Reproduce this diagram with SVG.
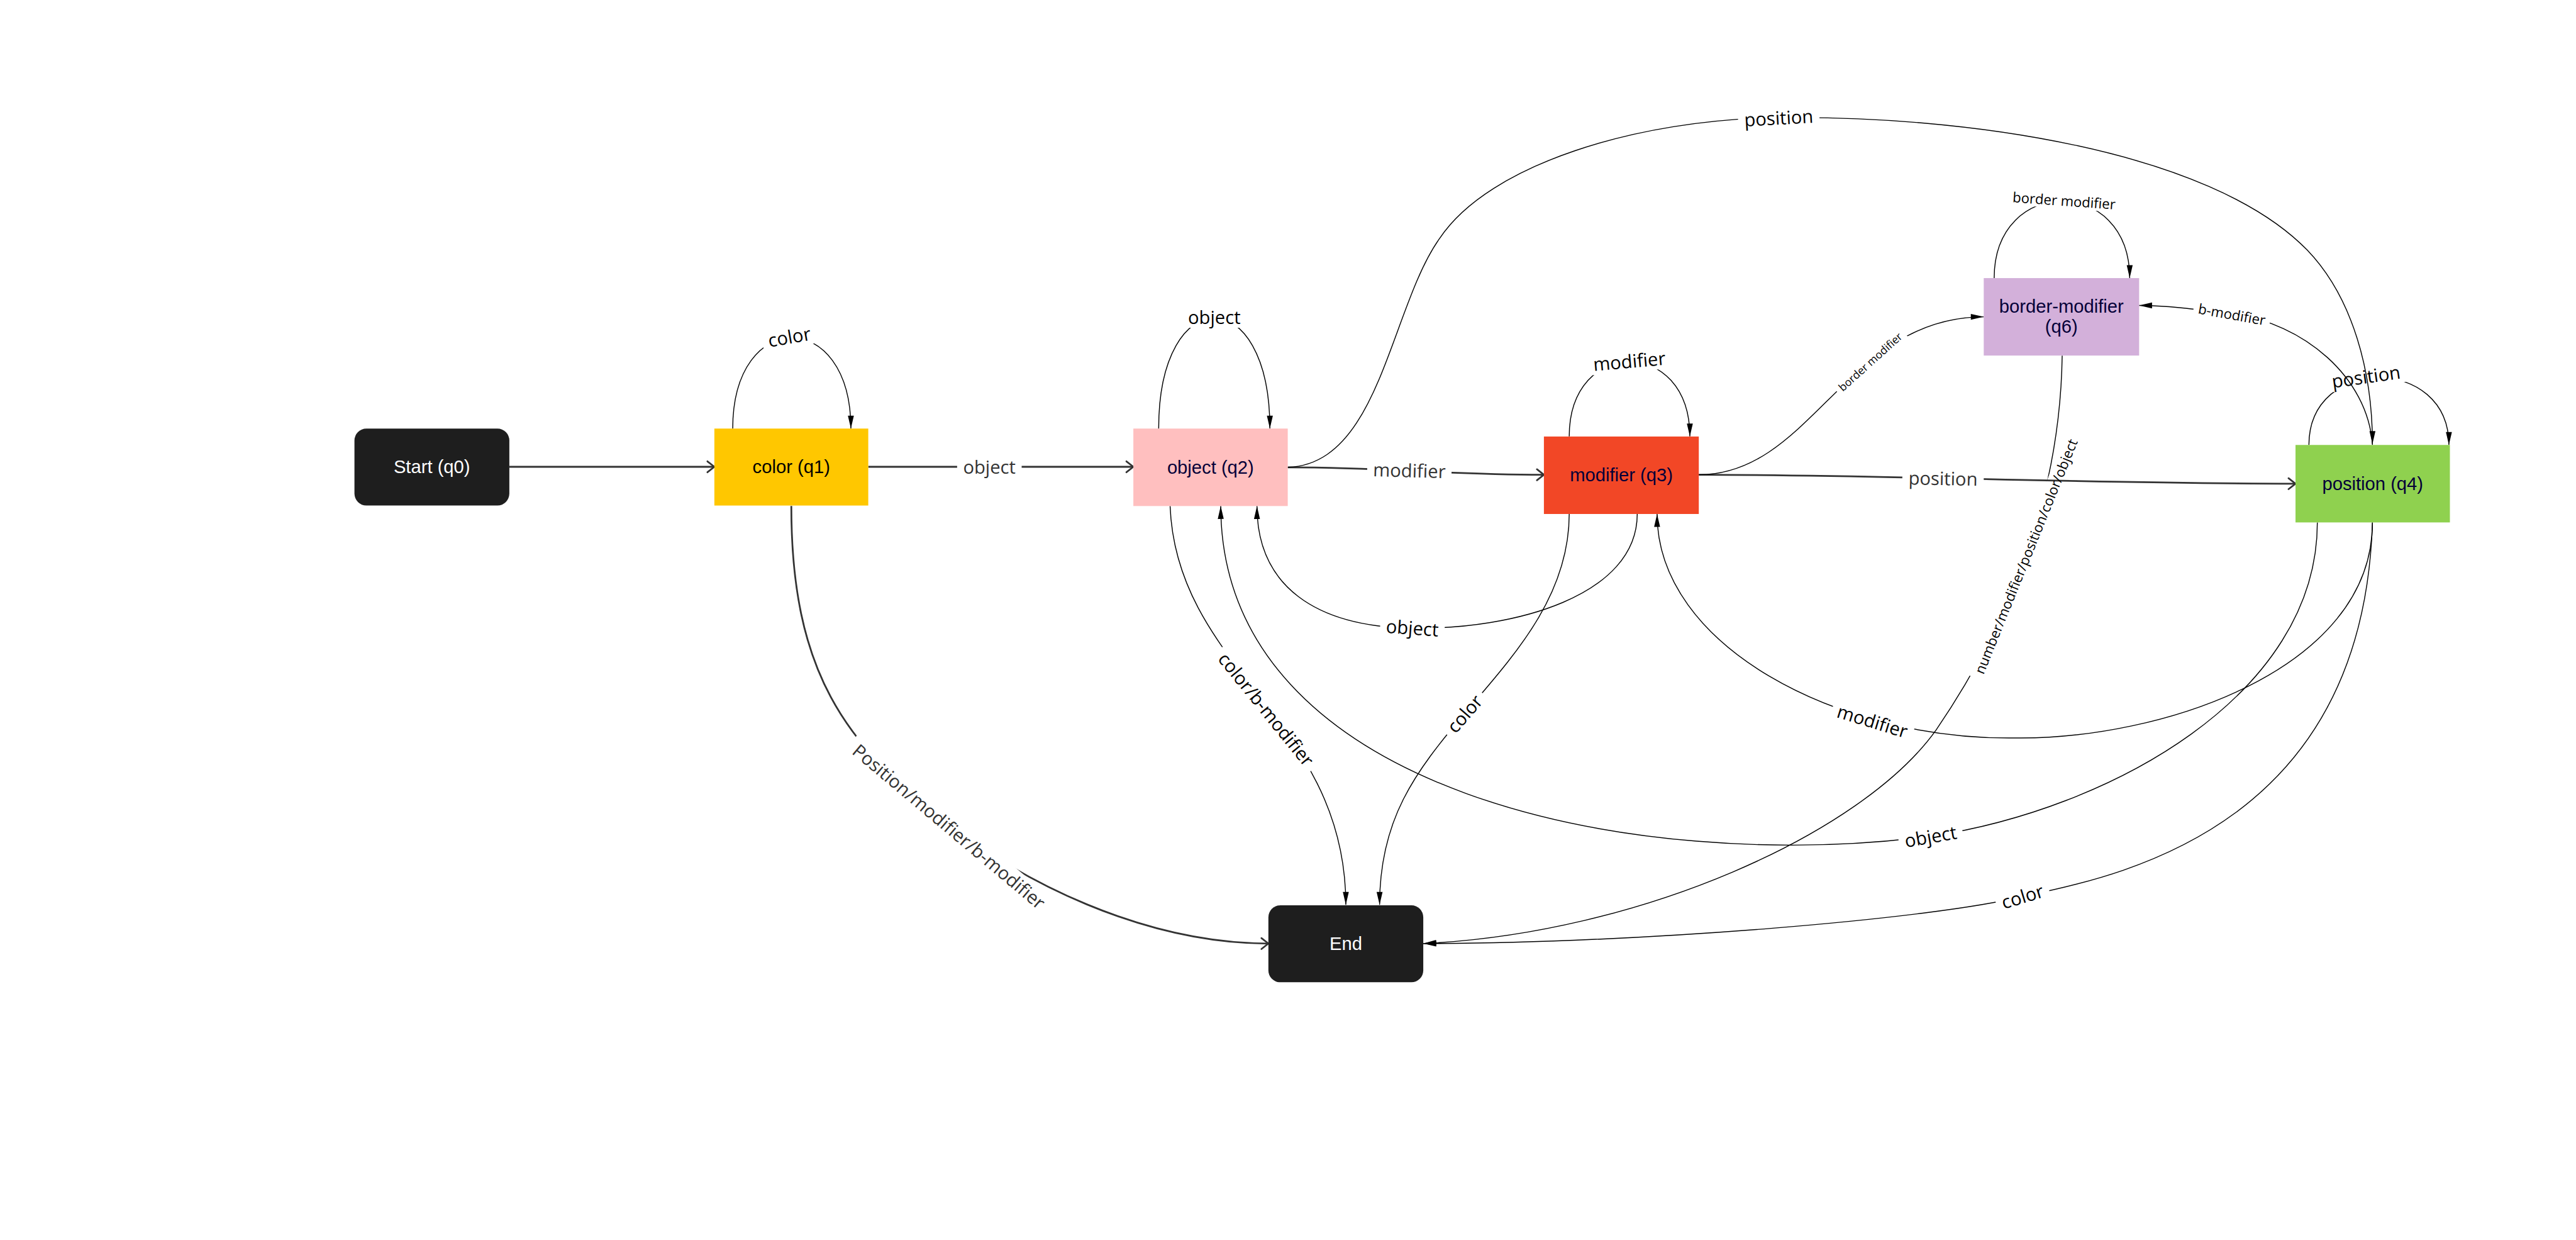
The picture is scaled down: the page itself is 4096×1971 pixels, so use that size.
<svg xmlns="http://www.w3.org/2000/svg" width="4096" height="1971" viewBox="0 0 4096 1971">
<style>
.thick{fill:none;stroke:#333;stroke-width:3.5;marker-end:url(#chev)}
.thin{fill:none;stroke:#000;stroke-width:1.8;marker-end:url(#tri)}
.lbl{font-family:"Open Sans","Noto Sans",sans-serif;font-size:37px;text-anchor:middle;dominant-baseline:central;fill:#000}
.g{fill:#333}
.sm{font-size:28px}
.xs{font-size:22px}
.nt{font-family:"Liberation Sans",Arial,sans-serif;font-size:37px;text-anchor:middle;dominant-baseline:central;fill:#050038}
.wt{fill:#fff}
</style>
<defs>
<marker id="chev" markerUnits="userSpaceOnUse" markerWidth="22" markerHeight="30" refX="17" refY="14" orient="auto" overflow="visible"><path d="M3,3 L17,14 L3,25" fill="none" stroke="#333" stroke-width="3.5" stroke-linecap="round" stroke-linejoin="round"/></marker>
<marker id="tri" markerUnits="userSpaceOnUse" markerWidth="27" markerHeight="14" refX="26" refY="7" orient="auto" overflow="visible"><path d="M0,1 L26,7 L0,13 Z" fill="#000"/></marker>
<mask id="m-e2" maskUnits="userSpaceOnUse" x="0" y="0" width="5189" height="2497"><rect width="5189" height="2497" fill="#fff"/><rect x="1928" y="918" width="130" height="44"/></mask>
<mask id="m-e3" maskUnits="userSpaceOnUse" x="0" y="0" width="5189" height="2497"><rect width="5189" height="2497" fill="#fff"/><rect x="2754" y="925" width="170" height="44" transform="rotate(1.5 2839 947)"/></mask>
<mask id="m-e4" maskUnits="userSpaceOnUse" x="0" y="0" width="5189" height="2497"><rect width="5189" height="2497" fill="#fff"/><rect x="3832" y="941" width="164" height="44" transform="rotate(1 3914 963)"/></mask>
<mask id="m-e5" maskUnits="userSpaceOnUse" x="0" y="0" width="5189" height="2497"><rect width="5189" height="2497" fill="#fff"/><rect x="1652" y="1642" width="520" height="44" transform="rotate(40 1912 1664)"/></mask>
<mask id="m-e6" maskUnits="userSpaceOnUse" x="0" y="0" width="5189" height="2497"><rect width="5189" height="2497" fill="#fff"/><rect x="2398" y="1406" width="306" height="44" transform="rotate(51 2551 1428)"/></mask>
<mask id="m-e7" maskUnits="userSpaceOnUse" x="0" y="0" width="5189" height="2497"><rect width="5189" height="2497" fill="#fff"/><rect x="2895" y="1415" width="110" height="44" transform="rotate(-49 2950 1437)"/></mask>
<mask id="m-e8" maskUnits="userSpaceOnUse" x="0" y="0" width="5189" height="2497"><rect width="5189" height="2497" fill="#fff"/><rect x="2780" y="1242" width="130" height="44" transform="rotate(4 2845 1264)"/></mask>
<mask id="m-e9" maskUnits="userSpaceOnUse" x="0" y="0" width="5189" height="2497"><rect width="5189" height="2497" fill="#fff"/><rect x="3687" y="1430" width="170" height="44" transform="rotate(17 3772 1452)"/></mask>
<mask id="m-e10" maskUnits="userSpaceOnUse" x="0" y="0" width="5189" height="2497"><rect width="5189" height="2497" fill="#fff"/><rect x="3824" y="1662" width="130" height="44" transform="rotate(-10 3889 1684)"/></mask>
<mask id="m-e11" maskUnits="userSpaceOnUse" x="0" y="0" width="5189" height="2497"><rect width="5189" height="2497" fill="#fff"/><rect x="4019" y="1783" width="110" height="44" transform="rotate(-17 4074 1805)"/></mask>
<mask id="m-e12" maskUnits="userSpaceOnUse" x="0" y="0" width="5189" height="2497"><rect width="5189" height="2497" fill="#fff"/><rect x="3815" y="1103" width="530" height="34" transform="rotate(-68 4080 1120)"/></mask>
<mask id="m-e13" maskUnits="userSpaceOnUse" x="0" y="0" width="5189" height="2497"><rect width="5189" height="2497" fill="#fff"/><rect x="3677" y="714" width="180" height="28" transform="rotate(-42 3767 728)"/></mask>
<mask id="m-e14" maskUnits="userSpaceOnUse" x="0" y="0" width="5189" height="2497"><rect width="5189" height="2497" fill="#fff"/><rect x="3501" y="215" width="164" height="44" transform="rotate(-3 3583 237)"/></mask>
<mask id="m-e15" maskUnits="userSpaceOnUse" x="0" y="0" width="5189" height="2497"><rect width="5189" height="2497" fill="#fff"/><rect x="4418" y="615" width="156" height="34" transform="rotate(10 4496 632)"/></mask>
<mask id="m-l1" maskUnits="userSpaceOnUse" x="0" y="0" width="5189" height="2497"><rect width="5189" height="2497" fill="#fff"/><rect x="1535" y="656" width="110" height="44" transform="rotate(-10 1590 678)"/></mask>
<mask id="m-l2" maskUnits="userSpaceOnUse" x="0" y="0" width="5189" height="2497"><rect width="5189" height="2497" fill="#fff"/><rect x="2381" y="616" width="130" height="44"/></mask>
<mask id="m-l3" maskUnits="userSpaceOnUse" x="0" y="0" width="5189" height="2497"><rect width="5189" height="2497" fill="#fff"/><rect x="3197" y="705" width="170" height="44" transform="rotate(-5 3282 727)"/></mask>
<mask id="m-l6" maskUnits="userSpaceOnUse" x="0" y="0" width="5189" height="2497"><rect width="5189" height="2497" fill="#fff"/><rect x="4045" y="386" width="226" height="34" transform="rotate(4 4158 403)"/></mask>
<mask id="m-l4" maskUnits="userSpaceOnUse" x="0" y="0" width="5189" height="2497"><rect width="5189" height="2497" fill="#fff"/><rect x="4684" y="736" width="164" height="44" transform="rotate(-8 4766 758)"/></mask>
</defs>
<rect width="4096" height="1971" fill="#fff"/>
<g transform="scale(0.78936)">
<g id="connectors">
<path id="e-start-q1" class="thick" d="M1026,940 L1439,940"/>
<path id="e-q1-q2" class="thick" mask="url(#m-e2)" d="M1749,940 L2283,940"/>
<path id="e-q2-q3" class="thick" mask="url(#m-e3)" d="M2594,941 C2800,941 2900,956 3110,956"/>
<path id="e-q3-q4" class="thick" mask="url(#m-e4)" d="M3422,956 C3800,956 4200,974 4624,974"/>
<path id="e-q1-end" class="thick" mask="url(#m-e5)" d="M1594,1019 C1594,1350 1700,1500 1912,1660 C2050,1770 2300,1900 2555,1900"/>
<path id="e-q2-end" class="thin" mask="url(#m-e6)" d="M2357,1019 C2370,1350 2711,1450 2711,1822"/>
<path id="e-q3-end" class="thin" mask="url(#m-e7)" d="M3161,1035 C3161,1200 3050,1320 2950,1437 C2850,1555 2779,1650 2779,1822"/>
<path id="e-q3-q2" class="thin" mask="url(#m-e8)" d="M3298,1035 C3298,1200 3050,1268 2845,1265 C2650,1262 2532,1180 2532,1019"/>
<path id="e-q4-q3" class="thin" mask="url(#m-e9)" d="M4779,1052 C4779,1350 4350,1490 4058,1486 C3700,1490 3338,1300 3338,1035"/>
<path id="e-q4-q2" class="thin" mask="url(#m-e10)" d="M4668,1052 C4668,1400 4250,1630 3889,1684 C3300,1760 2460,1600 2459,1019"/>
<path id="e-q4-end" class="thin" mask="url(#m-e11)" d="M4779,1052 C4760,1650 4300,1760 4074,1805 C3900,1850 3300,1900 2867,1900"/>
<path id="e-q6-end" class="thin" mask="url(#m-e12)" d="M4154,716 C4150,1000 4050,1250 3900,1470 C3750,1680 3300,1880 2867,1900"/>
<path id="e-q3-q6" class="thin" mask="url(#m-e13)" d="M3422,956 C3650,956 3720,638 3996,638"/>
<path id="e-q2-q4" class="thin" mask="url(#m-e14)" d="M2594,941 C2780,935 2800,620 2900,480 C3000,330 3300,240 3583,237 C3950,232 4450,300 4648,504 C4740,600 4779,750 4779,894"/>
<path id="e-q4-q6" class="thin" mask="url(#m-e15)" d="M4779,896 C4770,760 4640,650 4496,632 C4420,622 4360,615 4309,615"/>
<path id="loop-q1" class="thin" mask="url(#m-l1)" d="M1476,863 C1476,619 1714,619 1714,863"/>
<path id="loop-q2" class="thin" mask="url(#m-l2)" d="M2334,863 C2334,566 2558,566 2558,863"/>
<path id="loop-q3" class="thin" mask="url(#m-l3)" d="M3161,879 C3161,678 3404,678 3404,879"/>
<path id="loop-q6" class="thin" mask="url(#m-l6)" d="M4017,560 C4017,353 4290,353 4290,560"/>
<path id="loop-q4" class="thin" mask="url(#m-l4)" d="M4651,896 C4651,715 4933,715 4933,896"/>
</g>
<g id="edge-labels">
<text class="lbl g" x="1993" y="940">object</text>
<text class="lbl g" x="2839" y="947" transform="rotate(1.5 2839 947)">modifier</text>
<text class="lbl g" x="3914" y="963" transform="rotate(1 3914 963)">position</text>
<text class="lbl g" x="1912" y="1664" transform="rotate(40 1912 1664)">Position/modifier/b-modifier</text>
<text class="lbl" x="2551" y="1428" transform="rotate(51 2551 1428)">color/b-modifier</text>
<text class="lbl" x="2950" y="1437" transform="rotate(-49 2950 1437)">color</text>
<text class="lbl" x="2845" y="1264" transform="rotate(4 2845 1264)">object</text>
<text class="lbl" x="3772" y="1452" transform="rotate(17 3772 1452)">modifier</text>
<text class="lbl" x="3889" y="1684" transform="rotate(-10 3889 1684)">object</text>
<text class="lbl" x="4074" y="1805" transform="rotate(-17 4074 1805)">color</text>
<text class="lbl sm" x="4080" y="1120" transform="rotate(-68 4080 1120)">number/modifier/position/color/object</text>
<text class="lbl xs" x="3767" y="728" transform="rotate(-42 3767 728)">border modifier</text>
<text class="lbl" x="3583" y="237" transform="rotate(-3 3583 237)">position</text>
<text class="lbl sm" x="4496" y="632" transform="rotate(10 4496 632)">b-modifier</text>
<text class="lbl" x="1590" y="678" transform="rotate(-10 1590 678)">color</text>
<text class="lbl" x="2446" y="638">object</text>
<text class="lbl" x="3282" y="727" transform="rotate(-5 3282 727)">modifier</text>
<text class="lbl sm" x="4158" y="403" transform="rotate(4 4158 403)">border modifier</text>
<text class="lbl" x="4766" y="758" transform="rotate(-8 4766 758)">position</text>
</g>
<g id="node-start"><rect x="714" y="863" width="312" height="155" rx="24" fill="#1e1e1e"/><text class="nt wt" x="870" y="940">Start (q0)</text></g>
<g id="node-q1"><rect x="1439" y="863" width="310" height="155" fill="#ffc700"/><text class="nt" x="1594" y="940" fill="#000" style="fill:#000">color (q1)</text></g>
<g id="node-q2"><rect x="2283" y="863" width="311" height="156" fill="#ffbfbf"/><text class="nt" x="2438.5" y="941">object (q2)</text></g>
<g id="node-q3"><rect x="3110" y="879" width="312" height="156" fill="#f24726"/><text class="nt" x="3266" y="957">modifier (q3)</text></g>
<g id="node-q6"><rect x="3996" y="560" width="313" height="156" fill="#d3b0da"/><text class="nt" x="4152.5" y="617">border-modifier</text><text class="nt" x="4152.5" y="658">(q6)</text></g>
<g id="node-q4"><rect x="4624" y="896" width="311" height="156" fill="#8fd14f"/><text class="nt" x="4779.5" y="974">position (q4)</text></g>
<g id="node-end"><rect x="2555" y="1823" width="312" height="155" rx="24" fill="#1e1e1e"/><text class="nt wt" x="2711" y="1900">End</text></g>
</g>
</svg>
